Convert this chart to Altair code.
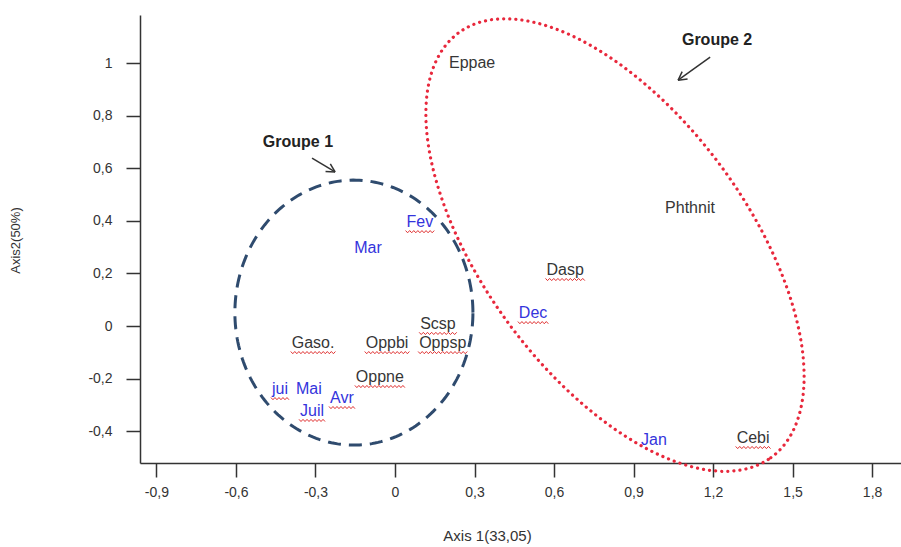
import altair as alt
import numpy as np
import pandas as pd

# ---- point labels (positions, in axis units) ----
labels = ["Eppae", "Phthnit", "Dasp", "Dec", "Fev", "Mar", "Scsp", "Gaso.", "Oppbi",
          "Oppsp", "Oppne", "jui", "Mai", "Avr", "Juil", "Jan", "Cebi"]
lab_x = [0.291, 1.113, 0.642, 0.521, 0.094, -0.102, 0.162, -0.309, -0.030,
         0.180, -0.057, -0.434, -0.325, -0.200, -0.313, 0.977, 1.351]
lab_y = [1.000, 0.449, 0.213, 0.049, 0.395, 0.297, 0.008, -0.065, -0.065,
         -0.065, -0.194, -0.240, -0.240, -0.274, -0.323, -0.433, -0.426]
is_month = [False, False, False, True, True, True, False, False, False,
            False, False, True, True, True, True, True, False]
spell_flag = [False, False, True, True, True, False, True, True, True,
              True, True, True, False, True, True, False, True]

# ---- axis ticks ----
x_ticks = [-0.9, -0.6, -0.3, 0, 0.3, 0.6, 0.9, 1.2, 1.5, 1.8]
x_tick_labels = ["-0,9", "-0,6", "-0,3", "0", "0,3", "0,6", "0,9", "1,2", "1,5", "1,8"]
y_ticks = [-0.4, -0.2, 0, 0.2, 0.4, 0.6, 0.8, 1]
y_tick_labels = ["-0,4", "-0,2", "0", "0,2", "0,4", "0,6", "0,8", "1"]
x_domain = [-0.962, 1.909]
y_domain = [-0.521, 1.183]

# ---- group annotations ----
group_names = ["Groupe 1", "Groupe 2"]
group_text_x = [-0.366, 1.215]
group_text_y = [0.700, 1.087]
arrow_x0 = [-0.313, 1.189]
arrow_y0 = [0.639, 1.023]
arrow_x1 = [-0.226, 1.068]
arrow_y1 = [0.586, 0.935]

# ellipses: center x, center y, semi-axis a, semi-axis b, rotation (deg)
ell1 = dict(cx=-0.155, cy=0.051, a=0.449, b=0.504, rot=0.0)
ell2 = dict(cx=0.830, cy=0.308, a=1.0, b=0.50, rot=-54.0)

BLACK = "#363636"
BLUE = "#3434dc"
FONT = "Liberation Sans"
LABEL_SIZE = 16

W, H = 761, 448
PX_X = (x_domain[1] - x_domain[0]) / W   # axis units per pixel
PX_Y = (y_domain[1] - y_domain[0]) / H

xs = alt.Scale(domain=x_domain, nice=False, zero=False)
ys = alt.Scale(domain=y_domain, nice=False, zero=False)

# approximate Arial advance widths (em) for squiggle lengths
EM = {"a": .556, "b": .556, "c": .5, "d": .556, "e": .556, "i": .222, "j": .222,
      "l": .222, "n": .556, "o": .556, "p": .556, "r": .333, "s": .5, "t": .278,
      "u": .556, "v": .5, "h": .556, ".": .278, "M": .833, "O": .778, "G": .778,
      "C": .722, "D": .722, "F": .611, "S": .667, "A": .667, "J": .5, "P": .667,
      "E": .667}


def ellipse_df(p, n=240):
    t = np.linspace(0, 2 * np.pi, n)
    ph = np.deg2rad(p["rot"])
    x = p["cx"] + p["a"] * np.cos(t) * np.cos(ph) - p["b"] * np.sin(t) * np.sin(ph)
    y = p["cy"] + p["a"] * np.cos(t) * np.sin(ph) + p["b"] * np.sin(t) * np.cos(ph)
    return pd.DataFrame({"x": x, "y": y, "o": np.arange(n)})


def lab_expr(vals, texts):
    expr = "''"
    for v, s in zip(reversed(vals), reversed(texts)):
        expr = f"abs(datum.value - ({v})) < 1e-6 ? '{s}' : ({expr})"
    return expr


lab_df = pd.DataFrame({
    "label": labels, "x": lab_x, "y": lab_y,
    "color": [BLUE if m else BLACK for m in is_month],
})

# red spell-check squiggles under flagged labels
sq = []
for lab, x, y, f in zip(labels, lab_x, lab_y, spell_flag):
    if not f:
        continue
    w = sum(EM.get(c, .556) for c in lab) * LABEL_SIZE + 2
    n = int(w / 2)
    for k in range(n + 1):
        sq.append({"id": lab, "o": k,
                   "x": x + (-w / 2 + k * w / n) * PX_X,
                   "y": y - (9.5 + (1.1 if k % 2 else -1.1)) * PX_Y})
sq_df = pd.DataFrame(sq)

grp_df = pd.DataFrame({"name": group_names, "x": group_text_x, "y": group_text_y})
arr_df = pd.DataFrame({"x": arrow_x0, "y": arrow_y0, "x2": arrow_x1, "y2": arrow_y1})

# arrow heads (open V) derived from the arrow vectors
heads = []
for x0, y0, x1, y1 in zip(arrow_x0, arrow_y0, arrow_x1, arrow_y1):
    ang = np.arctan2(y0 - y1, x0 - x1)
    for d in (-0.5, 0.5):
        heads.append({"x": x1, "y": y1,
                      "x2": x1 + 0.036 * np.cos(ang + d),
                      "y2": y1 + 0.036 * np.sin(ang + d)})
head_df = pd.DataFrame(heads)

# base layer with axes
axes = alt.Chart(lab_df).mark_point(opacity=0).encode(
    x=alt.X("x:Q", scale=xs, title="Axis 1(33,05)",
            axis=alt.Axis(values=x_ticks, labelExpr=lab_expr(x_ticks, x_tick_labels),
                          grid=False, tickSize=14, tickWidth=1.5, tickColor="#333",
                          domainColor="#333", domainWidth=1.5, labelFont=FONT,
                          labelFontSize=14, labelColor="#333", labelPadding=8,
                          titleFont=FONT, titleFontSize=15, titleFontWeight="normal",
                          titleColor="#333", titleX=347, titleY=65)),
    y=alt.Y("y:Q", scale=ys, title="Axis2(50%)",
            axis=alt.Axis(values=y_ticks, labelExpr=lab_expr(y_ticks, y_tick_labels),
                          grid=False, tickSize=14, tickWidth=1.5, tickColor="#333",
                          domainColor="#333", domainWidth=1.5, labelFont=FONT,
                          labelFontSize=14, labelColor="#333", labelPadding=14,
                          titleFont=FONT, titleFontSize=13, titleFontWeight="normal",
                          titleColor="#333", titleX=-118, titleY=225)),
)

e1 = alt.Chart(ellipse_df(ell1)).mark_line(
    color="#2f4b6e", strokeWidth=3, strokeDash=[13, 8]
).encode(x=alt.X("x:Q", scale=xs), y=alt.Y("y:Q", scale=ys), order="o:Q")

e2 = alt.Chart(ellipse_df(ell2)).mark_line(
    color="#e8283c", strokeWidth=3.2, strokeDash=[0.1, 6], strokeCap="round"
).encode(x=alt.X("x:Q", scale=xs), y=alt.Y("y:Q", scale=ys), order="o:Q")

squig = alt.Chart(sq_df).mark_line(color="#e03030", strokeWidth=1).encode(
    x=alt.X("x:Q", scale=xs), y=alt.Y("y:Q", scale=ys), detail="id:N", order="o:Q")

texts = alt.Chart(lab_df).mark_text(
    font=FONT, fontSize=LABEL_SIZE, baseline="middle", align="center"
).encode(x=alt.X("x:Q", scale=xs), y=alt.Y("y:Q", scale=ys), text="label:N",
         color=alt.Color("color:N", scale=None))

grp = alt.Chart(grp_df).mark_text(
    font=FONT, fontSize=16, fontWeight="bold", color="#222", baseline="middle"
).encode(x=alt.X("x:Q", scale=xs), y=alt.Y("y:Q", scale=ys), text="name:N")

arrows = alt.Chart(arr_df).mark_rule(color="#333", strokeWidth=1.5).encode(
    x=alt.X("x:Q", scale=xs), y=alt.Y("y:Q", scale=ys), x2="x2:Q", y2="y2:Q")
arrowheads = alt.Chart(head_df).mark_rule(color="#333", strokeWidth=1.5).encode(
    x=alt.X("x:Q", scale=xs), y=alt.Y("y:Q", scale=ys), x2="x2:Q", y2="y2:Q")

chart = alt.layer(axes, e1, e2, squig, texts, grp, arrows, arrowheads).properties(
    width=W, height=H,
    autosize=alt.AutoSizeParams(type="none"),
    padding={"left": 140, "top": 15, "right": 0, "bottom": 84},
).configure_view(stroke=None)

chart.save("out.html", embed_options={"renderer": "svg", "actions": False})
